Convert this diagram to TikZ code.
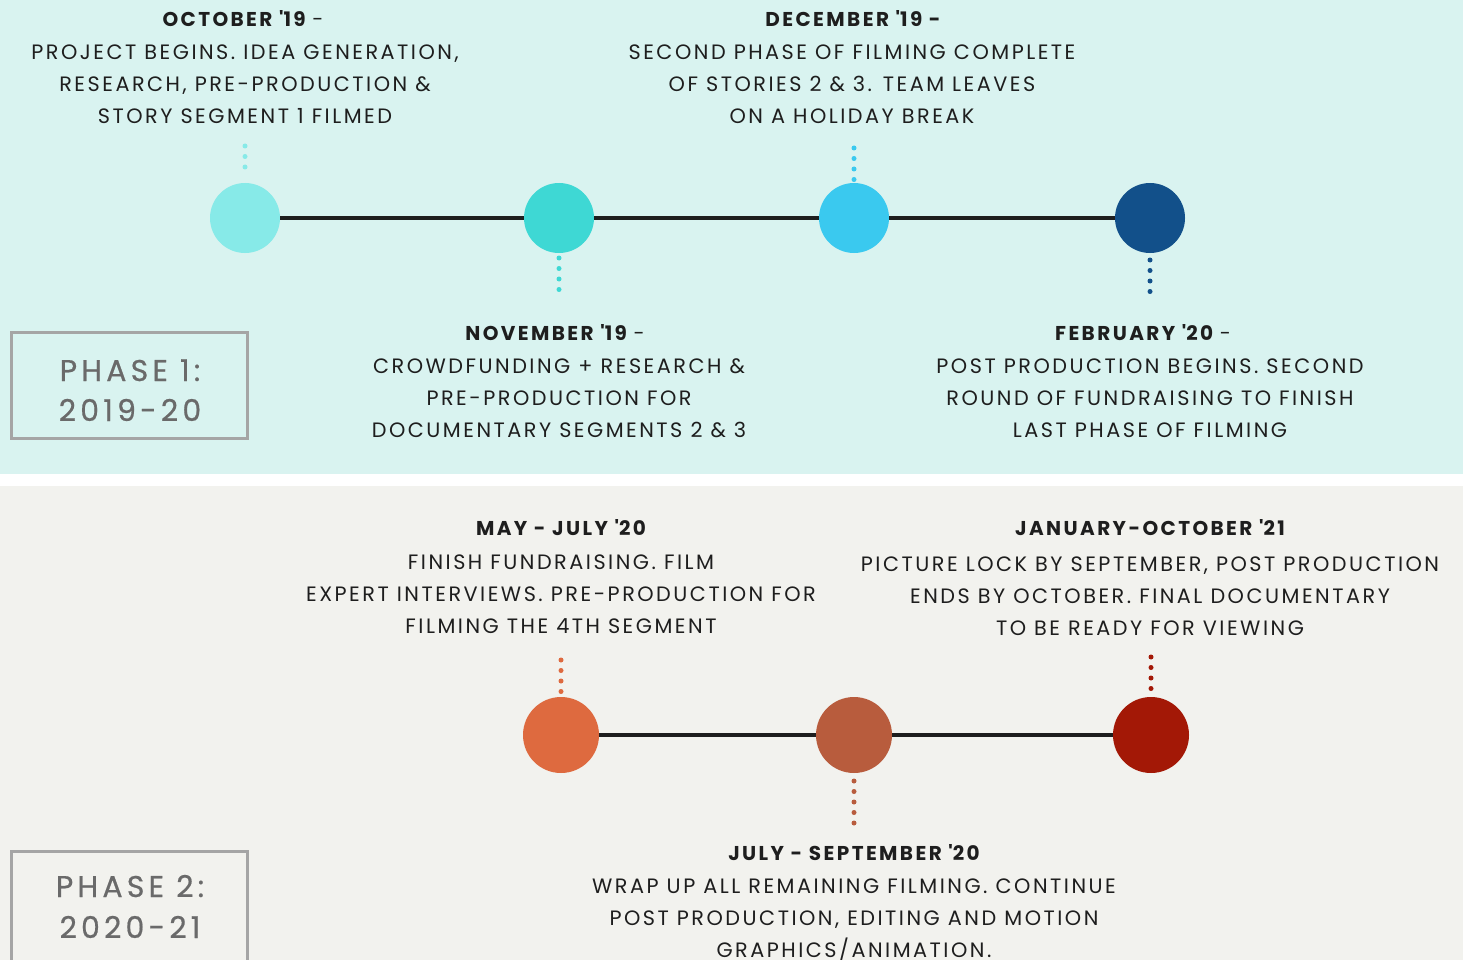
\documentclass[tikz,border=0pt]{standalone}
\usepackage{fontspec}
\setmainfont{Poppins}[LetterSpace=12]
\newfontfamily\phasefont{Poppins}[LetterSpace=14,FakeBold=0.6]
\definecolor{topbg}{HTML}{D9F3F0}
\definecolor{botbg}{HTML}{F2F2EE}
\definecolor{txt}{HTML}{1E1E1E}
\definecolor{phasegray}{HTML}{6A6A6A}
\definecolor{boxgray}{HTML}{A5A5A5}
\definecolor{cA}{HTML}{87EAE8}
\definecolor{cB}{HTML}{3ED8D4}
\definecolor{cC}{HTML}{3AC9EF}
\definecolor{cD}{HTML}{12508A}
\definecolor{cE}{HTML}{DE6A3F}
\definecolor{cF}{HTML}{B85C3D}
\definecolor{cG}{HTML}{A31806}
\newcommand{\ap}{\textquotesingle}
\begin{document}
\begin{tikzpicture}[x=1pt,y=-1pt,
  dot/.style={circle,inner sep=0pt,minimum size=#1},
  tline/.style={line width=4pt,draw=txt},
  dotline/.style={line width=5pt,line cap=round,dash pattern=on 0pt off 10.5pt},
  head/.style={anchor=base,inner sep=0pt,text=txt,font=\fontsize{20}{32}\selectfont\bfseries},
  body/.style={anchor=base,inner sep=0pt,text=txt,align=center,font=\fontsize{20.8}{32}\selectfont},
  phase/.style={anchor=base,inner sep=0pt,text=phasegray,font=\phasefont\fontsize{30}{40}\selectfont}
]
\useasboundingbox (0,0) rectangle (1463,960);
\fill[topbg] (0,0) rectangle (1463,474);
\fill[white] (0,474) rectangle (1463,486);
\fill[botbg] (0,486) rectangle (1463,960);

% phase boxes
\draw[boxgray,line width=3pt] (11.5,332.5) rectangle (247.5,438.5);
\node[phase] (p1a) at (130,381) {PHASE 1:};
\node[phase] (p1b) at (130,421) {2019-20};
\draw[boxgray,line width=3pt] (11.5,851.5) rectangle (247.5,962);
\node[phase] (p2a) at (130,897) {PHASE 2:};
\node[phase] (p2b) at (130,938) {2020-21};

% top timeline
\node[dot=70pt,fill=cA] (c1) at (245,218) {};
\node[dot=70pt,fill=cB] (c2) at (559,218) {};
\node[dot=70pt,fill=cC] (c3) at (854,218) {};
\node[dot=70pt,fill=cD] (c4) at (1150,218) {};
\draw[tline] (c1) -- (c2);
\draw[tline] (c2) -- (c3);
\draw[tline] (c3) -- (c4);
\coordinate (t1) at (245,146);
\coordinate (t1e) at (245,177);
\coordinate (t2) at (559,258);
\coordinate (t2e) at (559,290);
\coordinate (t3) at (854,148);
\coordinate (t3e) at (854,180);
\coordinate (t4) at (1150,260);
\coordinate (t4e) at (1150,292);
\draw[dotline,cA] (t1) -- (t1e);
\draw[dotline,cB] (t2) -- (t2e);
\draw[dotline,cC] (t3) -- (t3e);
\draw[dotline,cD] (t4) -- (t4e);

% bottom timeline
\node[dot=76pt,fill=cE] (d1) at (561,735) {};
\node[dot=76pt,fill=cF] (d2) at (854,735) {};
\node[dot=76pt,fill=cG] (d3) at (1151,735) {};
\draw[tline] (d1) -- (d2);
\draw[tline] (d2) -- (d3);
\coordinate (b1) at (561,660);
\coordinate (b1e) at (561,693);
\coordinate (b2) at (854,781);
\coordinate (b2e) at (854,826);
\coordinate (b3) at (1151,657);
\coordinate (b3e) at (1151,690);
\draw[dotline,cE] (b1) -- (b1e);
\draw[dotline,cF] (b2) -- (b2e);
\draw[dotline,cG] (b3) -- (b3e);

% texts top (body anchored at baseline of last line)
\node[head] (h1) at (243,27) {OCTOBER \ap19 \mdseries-};
\node[body] (x1) at (245,124) {PROJECT BEGINS. IDEA GENERATION,\\RESEARCH, PRE-PRODUCTION \&\\STORY SEGMENT 1 FILMED};
\node[head] (h3) at (853,27) {DECEMBER \ap19 -};
\node[body] (x3) at (852,124) {SECOND PHASE OF FILMING COMPLETE\\OF STORIES 2 \& 3. TEAM LEAVES\\ON A HOLIDAY BREAK};
\node[head] (h2) at (555,340) {NOVEMBER \ap19 \mdseries-};
\node[body] (x2) at (559,437) {CROWDFUNDING + RESEARCH \&\\PRE-PRODUCTION FOR\\DOCUMENTARY SEGMENTS 2 \& 3};
\node[head] (h4) at (1143,340) {FEBRUARY \ap20 \mdseries-};
\node[body] (x4) at (1150,437) {POST PRODUCTION BEGINS. SECOND\\ROUND OF FUNDRAISING TO FINISH\\LAST PHASE OF FILMING};

% texts bottom
\node[head] (h5) at (561,535) {MAY - JULY \ap20};
\node[body] (x5) at (561,633) {FINISH FUNDRAISING. FILM\\EXPERT INTERVIEWS. PRE-PRODUCTION FOR\\FILMING THE 4TH SEGMENT};
\node[head] (h6) at (1150,535) {JANUARY-OCTOBER \ap21};
\node[body] (x6) at (1150,635) {PICTURE LOCK BY SEPTEMBER, POST PRODUCTION\\ENDS BY OCTOBER. FINAL DOCUMENTARY\\TO BE READY FOR VIEWING};
\node[head] (h7) at (854,860) {JULY - SEPTEMBER \ap20};
\node[body] (x7) at (854,957) {WRAP UP ALL REMAINING FILMING. CONTINUE\\POST PRODUCTION, EDITING AND MOTION\\GRAPHICS/ANIMATION.};
\end{tikzpicture}
\end{document}
